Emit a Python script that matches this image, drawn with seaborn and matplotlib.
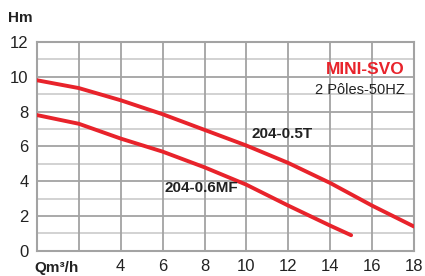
import matplotlib
matplotlib.use("Agg")
import matplotlib.pyplot as plt
import seaborn as sns
import pandas as pd

# flow (m3/h) and head (m)
q_t = [0, 2, 4, 6, 8, 10, 12, 14, 16, 18]
h_t = [9.8, 9.35, 8.65, 7.85, 6.95, 6.05, 5.05, 3.9, 2.6, 1.4]
q_mf = [0, 2, 4, 6, 8, 10, 12, 14, 15]
h_mf = [7.8, 7.3, 6.45, 5.7, 4.8, 3.8, 2.6, 1.45, 0.9]

x_ticks = [4, 6, 8, 10, 12, 14, 16, 18]
y_ticks = [0, 2, 4, 6, 8, 10, 12]

sns.set_theme(style="white")
plt.rcParams['font.family'] = ['Liberation Sans', 'DejaVu Sans']

RED = "#e8232b"
GRID = "#a3a3a3"
GRID_MINOR = "#cfcfcf"

df_t = pd.DataFrame({"Q": q_t, "H": h_t})
df_mf = pd.DataFrame({"Q": q_mf, "H": h_mf})

fig = plt.figure(figsize=(4.25, 2.76), dpi=100)
ax = fig.add_axes([0.087, 0.091, 0.887, 0.757])

# grid
for y in range(1, 12, 2):
    ax.axhline(y, color=GRID_MINOR, lw=1.3, zorder=1)
for y in range(2, 12, 2):
    ax.axhline(y, color=GRID, lw=1.3, zorder=1)
for x in range(2, 18, 2):
    ax.axvline(x, color=GRID, lw=1.3, zorder=1)

sns.lineplot(data=df_t, x="Q", y="H", ax=ax, color=RED, lw=2.8, zorder=3)
sns.lineplot(data=df_mf, x="Q", y="H", ax=ax, color=RED, lw=2.8, zorder=3)

ax.set_xlim(0, 18)
ax.set_ylim(0, 12)
ax.set_xticks(x_ticks)
ax.set_yticks(y_ticks)
ax.tick_params(length=0, labelsize=12, colors="#222222", pad=6)
ax.set_xlabel("")
ax.set_ylabel("")
for s in ax.spines.values():
    s.set_color(GRID)
    s.set_linewidth(1.5)

fig.text(0.018, 0.935, "Hm", fontsize=11, fontweight="bold", color="#222222", va="center")
fig.text(0.082, 0.028, "Qm³/h", fontsize=11, fontweight="bold", color="#222222", va="center")

ax.text(17.55, 10.4, "MINI-SVO", fontsize=12.5, fontweight="bold", color=RED, ha="right", va="center")
ax.text(17.55, 9.25, "2 Pôles-50HZ", fontsize=10.5, color="#222222", ha="right", va="center")
ax.text(10.25, 6.7, "204-0.5T", fontsize=11, fontweight="bold", color="#222222", va="center")
ax.text(6.08, 3.6, "204-0.6MF", fontsize=11, fontweight="bold", color="#222222", va="center")

fig.savefig("out.png", dpi=100)
